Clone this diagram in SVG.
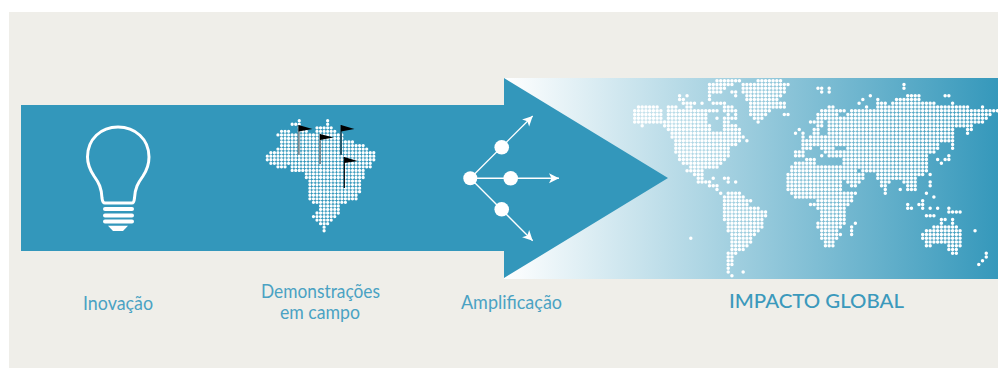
<svg xmlns="http://www.w3.org/2000/svg" width="998" height="368" viewBox="0 0 998 368">
<style>
.t{font-family:"Lato","Liberation Sans",sans-serif;font-size:19px;fill:#4aa2c3;text-anchor:middle}
.dots{fill:none;stroke:#fff;stroke-linecap:round;stroke-dasharray:0 1}
.ln{fill:none;stroke:#fff}
</style>
<defs>
<linearGradient id="g" x1="504" x2="998" y1="0" y2="0" gradientUnits="userSpaceOnUse"><stop offset="0" stop-color="#fff"/><stop offset="1" stop-color="#3598bb"/></linearGradient>
<marker id="a" markerUnits="userSpaceOnUse" markerWidth="12" markerHeight="12" refX="10" refY="5" viewBox="0 0 12 10" orient="auto" overflow="visible"><path d="M0 0L10 5L0 10L2.5 5Z" fill="#fff"/></marker>
</defs>
<rect x="9" y="12" width="989" height="356" fill="#efeee9"/>
<rect x="504" y="78" width="494" height="201" fill="url(#g)"/>
<g id="arrow"><path d="M21 105H504V78L668 178L504 278V251H21Z" fill="#3397bb"/></g>
<g id="world" transform="translate(634.7 80.7) scale(3.74 3.75)">
<path class="dots" stroke-width=".93" d="M22 0h6.1M33 0h6.1M20 1h6.1M29 1h12.1M72 1h.1M20 2h4.1M29 2h11.1M49 2h1.1M52 2h.1M72 2h.1M20 3h3.1M26 3h1.1M29 3h11.1M50 3h.1M52 3h.1M12 4h.1M14 4h.1M20 4h.1M27 4h.1M30 4h9.1M63 4h.1M73 4h3.1M83 4h1.1M12 5h1.1M20 5h.1M30 5h8.1M61 5h.1M65 5h.1M70 5h6.1M13 6h3.1M18 6h.1M21 6h3.1M31 6h9.1M60 6h.1M65 6h2.1M69 6h11.1M85 6h.1M1 7h5.1M9 7h2.1M14 7h1.1M24 7h2.1M31 7h9.1M52 7h1.1M62 7h.1M65 7h2.1M68 7h21.1M93 7h.1M0 8h7.1M9 8h13.1M24 8h3.1M31 8h5.1M50 8h6.1M58 8h38.1M0 9h7.1M9 9h10.1M25 9h.1M27 9h.1M31 9h4.1M40 9h1.1M49 9h5.1M57 9h38.1M0 10h7.1M9 10h10.1M22 10h.1M24 10h3.1M32 10h2.1M49 10h2.1M52 10h42.1M0 11h1.1M2 11h17.1M24 11h1.1M33 11h.1M47 11h3.1M52 11h41.1M2 12h.1M8 12h12.1M24 12h3.1M49 12h1.1M52 12h38.1M9 13h11.1M24 13h4.1M44 13h.1M48 13h1.1M52 13h33.1M89 13h1.1M10 14h13.1M24 14h4.1M43 14h.1M45 14h.1M48 14h1.1M52 14h33.1M89 14h.1M10 15h13.1M24 15h5.1M45 15h.1M47 15h38.1M11 16h12.1M24 16h4.1M30 16h.1M45 16h11.1M57 16h28.1M11 17h16.1M45 17h11.1M57 17h24.1M85 17h.1M11 18h14.1M45 18h2.1M50 18h3.1M57 18h24.1M85 18h.1M11 19h14.1M43 19h2.1M51 19h5.1M57 19h23.1M12 20h13.1M43 20h2.1M50 20h.1M52 20h4.1M57 20h21.1M84 20h.1M12 21h12.1M46 21h2.1M56 21h22.1M81 21h.1M83 21h1.1M13 22h10.1M43 22h5.1M56 22h22.1M82 22h.1M15 23h7.1M42 23h13.1M56 23h22.1M14 24h4.1M42 24h13.1M56 24h3.1M61 24h17.1M16 25h2.1M41 25h15.1M56 25h3.1M60 25h1.1M65 25h12.1M79 25h.1M17 26h1.1M21 26h.1M24 26h1.1M41 26h15.1M57 26h4.1M65 26h5.1M71 26h4.1M17 27h3.1M25 27h.1M27 27h.1M41 27h14.1M57 27h3.1M66 27h2.1M72 27h3.1M79 27h.1M20 28h2.1M41 28h14.1M58 28h1.1M66 28h1.1M73 28h2.1M79 28h.1M22 29h.1M41 29h14.1M67 29h.1M71 29h.1M73 29h2.1M23 30h.1M25 30h3.1M42 30h17.1M67 30h.1M78 30h.1M24 31h5.1M43 31h15.1M80 31h.1M24 32h7.1M49 32h9.1M77 32h.1M24 33h6.1M47 33h10.1M73 33h.1M76 33h1.1M24 34h9.1M49 34h7.1M73 34h1.1M77 34h.1M79 34h.1M81 34h.1M84 34h.1M24 35h11.1M50 35h6.1M84 35h3.1M24 36h11.1M50 36h6.1M78 36h2.1M24 37h10.1M50 37h6.1M82 37h1.1M85 37h.1M25 38h9.1M49 38h7.1M59 38h.1M82 38h.1M85 38h.1M25 39h9.1M49 39h6.1M58 39h.1M80 39h6.1M25 40h8.1M50 40h4.1M58 40h.1M78 40h9.1M91 40h.1M26 41h6.1M50 41h5.1M58 41h.1M77 41h10.1M15 42h.1M26 42h5.1M50 42h4.1M77 42h10.1M26 43h5.1M51 43h2.1M78 43h9.1M26 44h4.1M51 44h2.1M78 44h1.1M84 44h3.1M26 45h3.1M84 45h2.1M25 46h2.1M85 46h1.1M94 46h.1M25 47h1.1M94 47h.1M25 48h1.1M93 48h.1M25 49h1.1M92 49h.1M25 50h.1M25 51h.1M29 51h.1M26 52h.1M97 8h.1"/>
</g>
<g id="inovacao">
<path class="ln" stroke-width="3" d="M105 203H132Q134 203 134.5 198C135 188 138 183 143 176C147 170 149 165 149 157C149 139 135 127 118 127C101 127 87.5 139 87.5 157C87.5 165 90 170 94 176C99 183 101.5 188 102 198Q102.5 203 105 203Z"/>
<path class="ln" stroke-width="4" stroke-linecap="round" d="M105 209H132M105 215.5H132M105 221.5H132"/>
<path d="M108 225.7H128L123 231H113Z" fill="#fff"/>
<text class="t" x="118" y="310" textLength="70" lengthAdjust="spacingAndGlyphs">Inovação</text>
</g>
<g id="demonstracoes">
<g transform="translate(267.3 120.7) scale(3.55)">
<path class="dots" stroke-width=".92" d="M9 0h.1M17 0h.1M7 1h2.1M17 1h.1M9 2h.1M14 2h4.1M4 3h2.1M9 3h2.1M14 3h5.1M3 4h18.1M4 5h17.1M4 6h20.1M4 7h23.1M3 8h25.1M1 9h29.1M0 10h30.1M0 11h30.1M1 12h28.1M3 13h2.1M7 13h22.1M7 14h20.1M11 15h16.1M11 16h16.1M12 17h14.1M12 18h14.1M12 19h14.1M12 20h14.1M12 21h13.1M12 22h13.1M13 23h9.1M15 24h5.1M15 25h5.1M14 26h6.1M13 27h6.1M14 28h4.1M15 29h2.1M16 30h.1M16 31h.1"/>
</g>
<path d="M298.7 125V155M320 134V164" stroke="#7b8b92" stroke-width="2" fill="none"/>
<path d="M341 125V155" stroke="#28586b" stroke-width="2" fill="none"/>
<path d="M344.3 157V188" stroke="#000" stroke-width="1.2" fill="none"/>
<path d="M298.5 125L312.5 129L298.5 131.5ZM320 134L333.5 137.5L320 140ZM341 125L354.5 129L341 131.5ZM344.3 157L357.5 161L344.3 163Z" fill="#000"/>
<text class="t" x="320.5" y="298" textLength="119" lengthAdjust="spacingAndGlyphs">Demonstrações</text>
<text class="t" x="320" y="319" textLength="80" lengthAdjust="spacingAndGlyphs">em campo</text>
</g>
<g id="amplificacao">
<circle cx="470.3" cy="178.3" r="7" fill="#fff"/>
<circle cx="501.7" cy="147.3" r="7.3" fill="#fff"/>
<circle cx="510.7" cy="178.3" r="7.3" fill="#fff"/>
<circle cx="501.7" cy="209.3" r="7.3" fill="#fff"/>
<text class="t" x="511.5" y="309" textLength="101" lengthAdjust="spacingAndGlyphs">Amplificação</text>
</g>
<g id="connectors">
<path class="ln" stroke-width="1.3" marker-end="url(#a)" d="M470.3 178.3L532.7 116"/>
<path class="ln" stroke-width="1.6" marker-end="url(#a)" d="M470.3 178.3H559"/>
<path class="ln" stroke-width="1.3" marker-end="url(#a)" d="M470.3 178.3L532.7 240.7"/>
</g>
<g id="impacto"><text x="816.5" y="308" textLength="175" lengthAdjust="spacingAndGlyphs" style="font-family:Lato,'Liberation Sans',sans-serif;font-size:19px;font-weight:500;fill:#3b99bc;text-anchor:middle">IMPACTO GLOBAL</text></g>
</svg>
